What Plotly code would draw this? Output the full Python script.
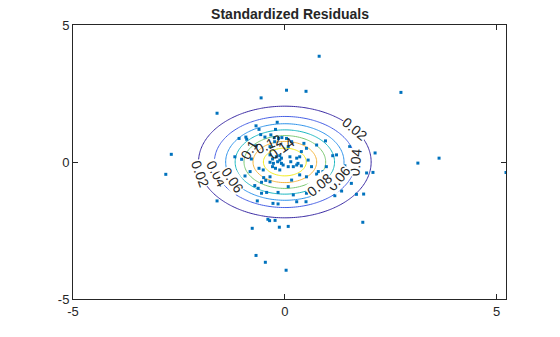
import numpy as np
import plotly.graph_objects as go

# Standardized residual pairs (x, y)
resid_x = [
    -1.60, -2.68, 0.81, 0.04, 0.50, -0.56, -0.18, 2.74, 2.13, 3.64,
    -2.81, -1.60, 3.14, 1.93, 2.08, 1.86, 1.84, 5.22, -0.65, -0.28,
    0.50, -0.40, -0.36, -0.23, -0.13, 0.08, -0.77, -0.68, -0.46, 0.03,
    -0.68, -0.61, -0.22, -0.92, -0.90, -0.57, -0.47, -0.33, -0.25, -0.15,
    -0.07, -0.68, -1.18, -1.02, -0.79, -0.35, -0.29, -0.20, -0.12, -0.08,
    -0.35, -0.27, -0.17, -0.08, -0.29, -0.22, -0.12, -0.61, -0.82, -1.31,
    -1.04, -0.50, -0.35, -0.55, -0.45, -0.94, -0.71, -0.55, -0.43, -0.16,
    -0.63, 1.53, 0.96, 1.13, 1.22, 0.45, 0.75, 0.16, 0.04, 0.08,
    0.28, 0.35, 0.31, 0.28, 0.39, 0.20, 0.14, 0.08, 0.55, 0.63,
    0.79, 0.51, 0.35, 0.16, 0.75, 0.90, 0.98, 1.18, 1.34, 1.77,
    1.69, 0.51, 0.67, 1.18, 0.20, 0.28, 0.08, 0.81, 1.42, 1.57,
    -0.35, -0.24, -0.12, -0.04, 0.12, 0.39, 0.51, -0.51, -0.35, -1.08,
    1.53, -1.30, -0.16, -1.10,
]
resid_y = [
    1.78, 0.28, 3.86, 2.62, 2.58, 2.34, 1.45, 2.54, 0.33, 0.14,
    -0.45, -1.42, -0.04, -0.40, -0.38, -1.17, -2.20, -0.38, -1.42, -1.51,
    -1.45, -2.09, -2.14, -2.13, -2.38, -2.35, -2.42, -3.41, -3.66, -3.95,
    1.32, 1.19, 1.19, 0.91, 0.83, 1.00, 0.91, 0.99, 0.89, 0.86,
    0.89, 0.59, 0.19, 0.10, 0.11, 0.26, 0.11, 0.19, 0.23, 0.14,
    -0.01, -0.05, 0.01, -0.05, -0.17, -0.23, -0.29, -0.23, -0.35, -0.39,
    -0.69, -0.57, -0.72, -0.74, -0.67, -0.51, -0.86, -1.14, -1.11, -1.11,
    -0.96, 0.56, 0.77, 0.23, 0.26, 0.68, 0.62, 0.74, 0.86, 0.56,
    0.14, 0.19, -0.05, -0.11, -0.14, -0.17, 0.01, -0.17, 0.07, -0.17,
    -0.35, -0.54, -0.47, -0.66, -0.44, -0.35, -0.17, -0.54, -1.06, -0.05,
    -1.18, -1.14, -0.84, -1.23, -1.20, -1.45, -0.90, -0.68, -0.14, -0.78,
    0.56, 0.74, 0.07, -0.11, 0.19, 0.38, 0.50, -0.29, -0.54, 0.86,
    -0.47, -0.51, -1.53, -0.96,
]

# Contour levels of the standard bivariate normal density
level_start, level_end, level_step = 0.02, 0.14, 0.02
level_colors = ["#3b2ba3", "#4760e4", "#2f93ea", "#1db7c1",
                "#7cc873", "#f4b540", "#f2ec1e"]

# Inline contour labels: (level, polar angle on the contour in degrees, text rotation)
label_spots = [
    (0.02, 36, 40), (0.02, 192, 70),
    (0.04, -1, -85), (0.04, 195, 62),
    (0.06, -26, -50), (0.06, 208, 55),
    (0.08, -46, -40),
    (0.10, 152, -60),
    (0.12, 120, -25),
    (0.14, 98, -35),
]

gx = np.linspace(-4, 4, 161)
gy = np.linspace(-4, 4, 161)
GX, GY = np.meshgrid(gx, gy)
density = np.exp(-0.5 * (GX ** 2 + GY ** 2)) / (2 * np.pi)

n = len(level_colors)
scale = [[i / (n - 1), c] for i, c in enumerate(level_colors)]

fig = go.Figure()
fig.add_trace(go.Contour(
    x=gx, y=gy, z=density,
    autocontour=False,
    contours=dict(start=level_start, end=level_end, size=level_step,
                  coloring="lines", showlabels=False),
    colorscale=scale, zmin=level_start, zmax=level_end,
    line=dict(width=1), showscale=False, hoverinfo="skip",
))

# Place each label on its contour: radius where the density equals the level
for level, theta_deg, rot in label_spots:
    r = np.sqrt(-2.0 * np.log(2 * np.pi * level))
    th = np.deg2rad(theta_deg)
    txt = "0.1" if abs(level - 0.10) < 1e-9 else f"{level:.2f}"
    fig.add_annotation(
        x=r * np.cos(th), y=r * np.sin(th), text=txt, textangle=rot,
        showarrow=False, borderpad=0,
        bgcolor="white" if level < 0.09 else "rgba(0,0,0,0)",
        font=dict(size=14, color="#262626",
                  family="Liberation Sans, Arial, sans-serif"),
    )

fig.add_trace(go.Scatter(
    x=resid_x, y=resid_y, mode="markers",
    marker=dict(symbol="square", size=3, color="#0072BD", line=dict(width=0)),
    showlegend=False,
))

axis_common = dict(
    showgrid=False, zeroline=False, showline=True, mirror="ticks",
    linecolor="#262626", linewidth=1, ticks="inside", ticklen=5,
    tickcolor="#262626", tickfont=dict(size=13, color="#262626"),
    tickmode="array", tickvals=[-5, 0, 5], ticktext=["-5", "0", "5"],
)
fig.update_xaxes(range=[-5, 5.22], **axis_common)
fig.update_yaxes(range=[-5, 5], **axis_common)

fig.update_layout(
    width=560, height=337,
    margin=dict(l=73, r=54, t=25, b=38),
    paper_bgcolor="white", plot_bgcolor="white",
    font=dict(family="Liberation Sans, Arial, sans-serif", color="#262626"),
    title=dict(text="<b>Standardized Residuals</b>", x=0.518, xanchor="center",
               y=0.958, yanchor="middle", yref="container",
               font=dict(size=14, color="#262626")),
    showlegend=False,
)

fig.write_html("out.html")
